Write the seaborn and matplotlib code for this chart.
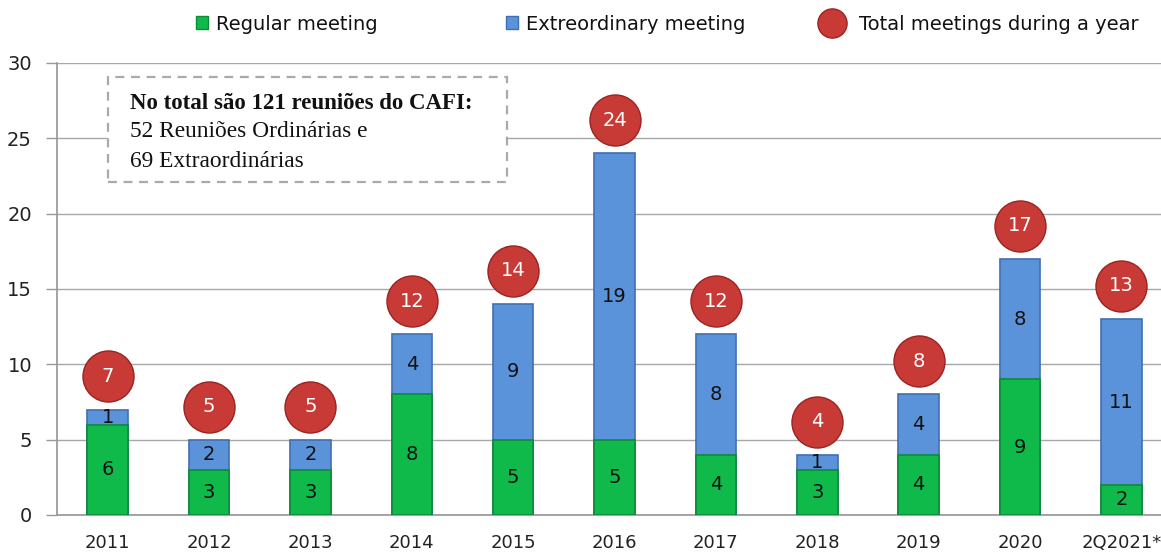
import matplotlib
matplotlib.use("Agg")
import matplotlib.pyplot as plt
import seaborn as sns
import pandas as pd
import numpy as np
from matplotlib.lines import Line2D
from matplotlib.patches import Patch, Rectangle

categories = ["2011", "2012", "2013", "2014", "2015", "2016", "2017", "2018", "2019", "2020", "2Q2021*"]
regular = [6, 3, 3, 8, 5, 5, 4, 3, 4, 9, 2]
extraordinary = [1, 2, 2, 4, 9, 19, 8, 1, 4, 8, 11]
yticks = [0, 5, 10, 15, 20, 25, 30]

total = [r + e for r, e in zip(regular, extraordinary)]
df = pd.DataFrame({"year": categories, "regular": regular,
                   "extra": extraordinary, "total": total})

sns.set_theme(style="white")
plt.rcParams["font.family"] = ["DejaVu Sans"]

W, H = 1161, 554
fig = plt.figure(figsize=(W / 100, H / 100), dpi=100)
left, right = 57, 1172
top, bottom = 63, 515
ax = fig.add_axes([left / W, 1 - bottom / H, (right - left) / W, (bottom - top) / H])

green = "#10BA4A"
blue = "#5B93DB"
red = "#C83A36"

sns.barplot(data=df, x="year", y="total", color=blue, width=0.4, ax=ax,
            saturation=1, edgecolor="#3F6FB0", linewidth=1.2, zorder=3)
sns.barplot(data=df, x="year", y="regular", color=green, width=0.4, ax=ax,
            saturation=1, edgecolor="#0E8A38", linewidth=1.2, zorder=4)

xs = np.arange(len(categories))
for i in range(len(categories)):
    ax.text(xs[i], regular[i] / 2, str(regular[i]), ha="center", va="center",
            fontsize=14, color="#111111", zorder=6)
    ax.text(xs[i], regular[i] + extraordinary[i] / 2, str(extraordinary[i]),
            ha="center", va="center", fontsize=14, color="#111111", zorder=6)

circ_y = [t + 2.2 for t in total]
ax.scatter(xs, circ_y, s=1350, color=red, edgecolor="#9A2421", linewidth=1.0, zorder=7)
for i in range(len(categories)):
    ax.text(xs[i], circ_y[i], str(total[i]), ha="center", va="center",
            fontsize=14, color="white", zorder=8)

ax.set_xlim(-0.5, 10.5)
ax.set_ylim(0, 30)
ax.set_yticks(yticks)
ax.set_yticklabels([str(v) for v in yticks], fontsize=14, color="#222222")
ax.tick_params(axis="x", labelsize=13, colors="#222222", length=0, pad=14)
ax.tick_params(axis="y", length=8, width=1, color="#999999", direction="out", pad=10, left=True)
ax.set_xlabel("")
ax.set_ylabel("")
ax.yaxis.grid(True, color="#A8A8A8", linewidth=1)
ax.set_axisbelow(True)
for s in ["top", "right"]:
    ax.spines[s].set_visible(False)
ax.spines["left"].set_color("#999999")
ax.spines["bottom"].set_color("#999999")

# annotation box
tx = 0.22
ax.text(tx, 27.34, "No total são 121 reuniões do CAFI:", fontsize=16.5, fontweight="bold",
        family="Liberation Serif", va="center", ha="left", zorder=9, color="#111111")
ax.text(tx, 25.48, "52 Reuniões Ordinárias e", fontsize=16.8,
        family="Liberation Serif", va="center", ha="left", zorder=9, color="#111111")
ax.text(tx, 23.49, "69 Extraordinárias", fontsize=16.8,
        family="Liberation Serif", va="center", ha="left", zorder=9, color="#111111")
ax.add_patch(Rectangle((0.0, 22.1), 3.94, 7.0, fill=True, facecolor="white",
                       edgecolor="#AAAAAA", linestyle=(0, (4, 3)), linewidth=1.6, zorder=5))

# legend, one entry per legend to place them like the reference
ly = 1 - 24 / H
entries = [
    (Patch(facecolor=green, edgecolor="#0E8A38"), "Regular meeting", 196, 0.6, 0.45),
    (Patch(facecolor=blue, edgecolor="#3F6FB0"), "Extreordinary meeting", 506, 0.6, 0.45),
    (Line2D([], [], marker="o", linestyle="none", markersize=21,
            markerfacecolor=red, markeredgecolor="#9A2421"),
     "Total meetings during a year", 818, 1.4, 0.7),
]
for h, lab, px, hl, tp in entries:
    leg = fig.legend([h], [lab], loc="center left", bbox_to_anchor=(px / W, ly),
                     frameon=False, fontsize=14, handlelength=hl, handleheight=0.6,
                     handletextpad=tp, borderpad=0, borderaxespad=0)
    for t in leg.get_texts():
        t.set_color("#111111")

fig.savefig("out.png", dpi=100)
